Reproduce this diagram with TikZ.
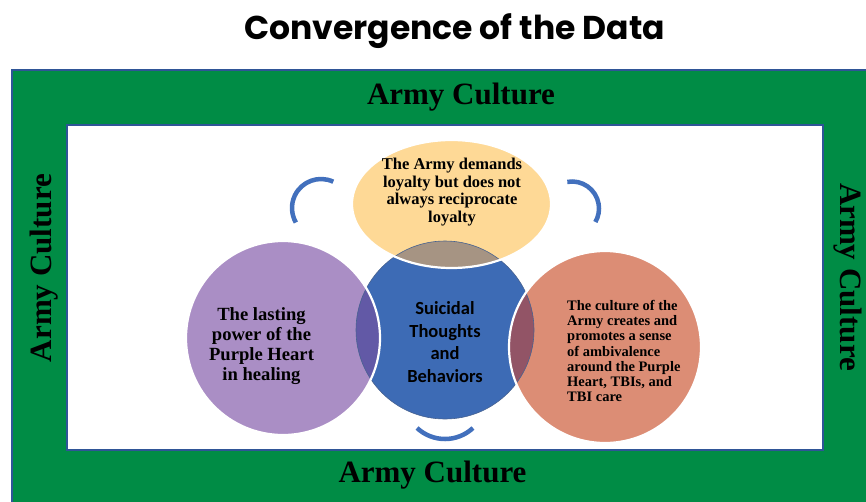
\documentclass[tikz,border=0pt]{standalone}
\usepackage{fontspec}
\setmainfont{Liberation Serif}
\newfontfamily\calibfont{Carlito}
\newfontfamily\titlefont{Poppins}
\definecolor{armygreen}{HTML}{008C45}
\definecolor{frameblue}{HTML}{2F5597}
\definecolor{loyalfill}{HTML}{FED996}
\definecolor{heartfill}{HTML}{AA8EC5}
\definecolor{culturefill}{HTML}{DC8D75}
\definecolor{corefill}{HTML}{3D6BB5}
\definecolor{loyalcore}{HTML}{A69483}
\definecolor{heartcore}{HTML}{6259A6}
\definecolor{culturecore}{HTML}{925466}
\definecolor{arcblue}{HTML}{4270BD}
\tikzset{
  band/.style={font=\fontsize{31}{31}\selectfont\bfseries, inner sep=0pt, anchor=base},
  ring/.style={white, line width=2.2pt},
  swoosh/.style={arcblue, line width=4.5pt},
  intext/.style={inner sep=0pt, text=black}
}
\begin{document}
\begin{tikzpicture}[x=1pt,y=-1pt]
\useasboundingbox (0,0) rectangle (866,501);
\clip (0,0) rectangle (866,501);

% outer culture band and inner field
\filldraw[fill=armygreen, draw=frameblue, line width=2pt] (12,70) rectangle (880,515);
\filldraw[fill=white, draw=frameblue, line width=2pt] (67,125) rectangle (823,450);

% title
\node[inner sep=0pt, anchor=base, font=\titlefont\fontsize{33}{33}\selectfont\bfseries] (title) at (454.5,39) {Convergence of the Data};

% band labels
\node[band] (armytop) at (461,104) {Army Culture};
\node[band] (armybot) at (432.5,482) {Army Culture};
\node[band, rotate=90] (armyleft) at (51,268) {Army Culture};
\node[band, rotate=-90] (armyright) at (840,277) {Army Culture};

% circles
\fill[corefill] (445,330) circle[radius=89pt];
\fill[loyalfill] (451.5,204) ellipse[x radius=99.5pt, y radius=64pt];
\fill[heartfill] (283,338) circle[radius=97pt];
\fill[culturefill] (605,347) circle[radius=96pt];

% overlaps with the core
\begin{scope}
  \clip (445,330) circle[radius=89pt];
  \fill[loyalcore] (451.5,204) ellipse[x radius=99.5pt, y radius=64pt];
  \fill[heartcore] (283,338) circle[radius=97pt];
  \fill[culturecore] (605,347) circle[radius=96pt];
\end{scope}
\draw[frameblue!70!gray, line width=0.6pt] (445,330) circle[radius=89pt];

% white rims of the outer shapes
\draw[ring] (451.5,204) ellipse[x radius=99.5pt, y radius=64pt];
\draw[ring] (283,338) circle[radius=97pt];
\draw[ring] (605,347) circle[radius=96pt];

% decorative arcs
\coordinate (arcl) at (321,208);
\coordinate (arcr) at (572,208.5);
\coordinate (arcb) at (445,398);
\draw[swoosh] (arcl) ++(65:29pt) arc[start angle=65, end angle=210, radius=29pt];
\draw[swoosh] (arcr) ++(100:27pt) arc[start angle=100, end angle=-30, radius=27pt];
\draw[swoosh] (arcb) ++(227:41pt) arc[start angle=227, end angle=313, radius=41pt];

% texts
\node[intext, align=center, font=\fontsize{16.5}{17.5}\selectfont\bfseries] (loyal) at (452,192)
  {The Army demands\\loyalty but does not\\always reciprocate\\loyalty};
\node[intext, align=center, font=\fontsize{18.6}{20}\selectfont\bfseries] (heart) at (261.5,346)
  {The lasting\\power of the\\Purple Heart\\in healing};
\node[intext, align=left, anchor=west, font=\fontsize{14.5}{15.2}\selectfont\bfseries] (culture) at (567,351)
  {The culture of the\\Army creates and\\promotes a sense\\of ambivalence\\around the Purple\\Heart, TBIs, and\\TBI care};
\node[intext, align=center, font=\calibfont\fontsize{18.5}{22.7}\selectfont\bfseries] (core) at (445,342)
  {Suicidal\\Thoughts\\and\\Behaviors};
\end{tikzpicture}
\end{document}
